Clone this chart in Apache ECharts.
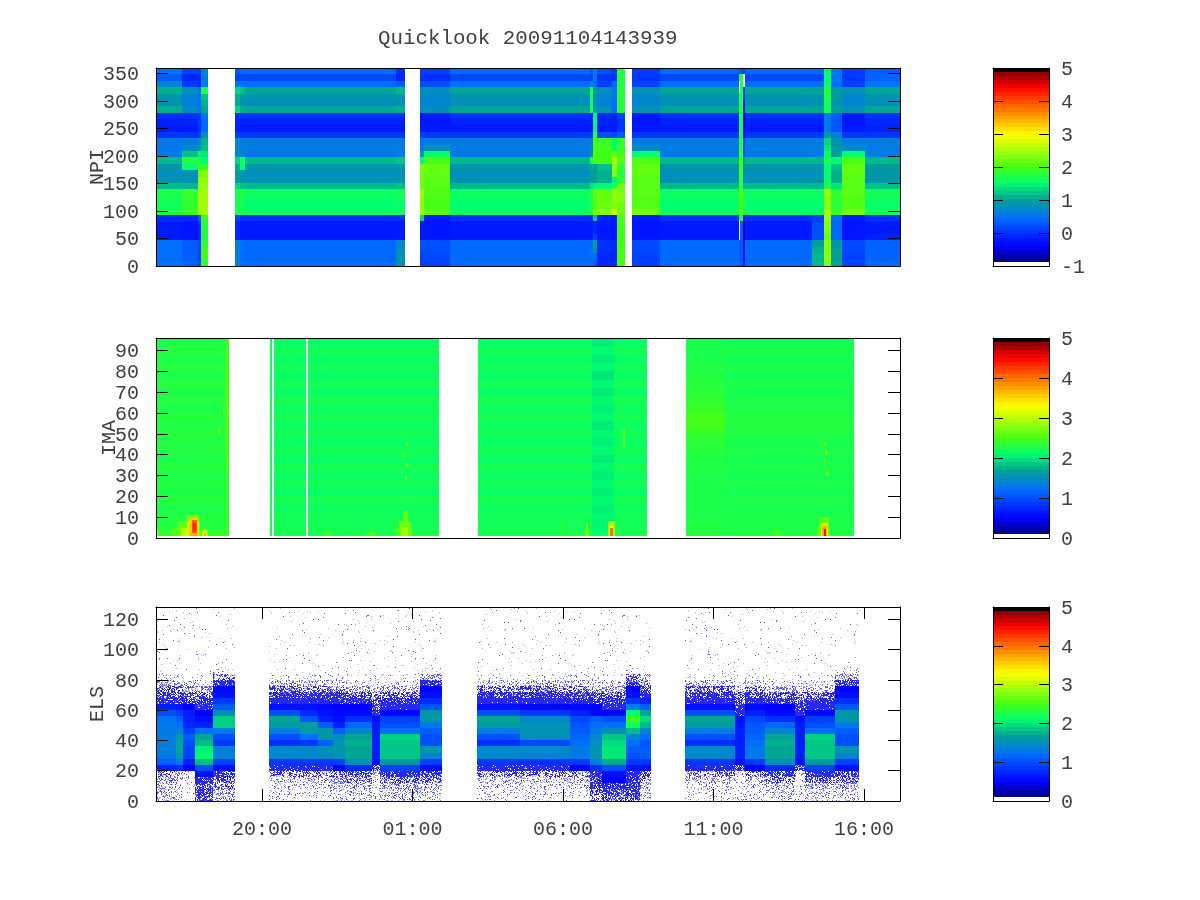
<!DOCTYPE html>
<html><head><meta charset="utf-8"><style>html,body{margin:0;padding:0;background:#fff}#c{width:1200px;height:900px}</style>
<script src="https://cdn.jsdelivr.net/npm/echarts@6/dist/echarts.min.js"></script></head>
<body><div id="c"></div><script>
const timeTicks=[20,25,30,35,40];
const timeLabels=['20:00','01:00','06:00','11:00','16:00'];
const npiTicks=[0,50,100,150,200,250,300,350];
const imaTicks=[0,10,20,30,40,50,60,70,80,90];
const elsTicks=[0,20,40,60,80,100,120];
const barTicks=[-1,0,1,2,3,4,5];
const barLevels=[0,.02,.04,.06,.08,.1,.12,.14,.16,.18,.2,.22,.24,.26,.28,.3,.32,.34,.36,.38,.4,.42,.44,.46,.48,.5,.52,.54,.56,.58,.6,.62,.64,.66,.68,.7,.72,.74,.76,.78,.8,.82,.84,.86,.88,.9,.92,.94,.96,.98];

// NPI: 31 rows, listed top to bottom
const npiQuiet=[0.4,0.15,0.45,1.05,0.85,0.8,1.05,-0.05,-0.15,-0.2,0,0.6,0.6,0.55,1.15,0.9,0.8,0.85,1.15,1.6,1.55,1.52,1.6,-0.05,-0.2,-0.2,-0.2,0.4,0.4,0.4,0.4];
const npiStart=[0.5,0.3,0.7,1.1,0.9,0.85,1.1,-0.05,-0.15,-0.2,0,0.55,0.55,0.6,1.15,0.9,0.8,0.9,1.15,1.7,1.65,1.62,1.72,-0.1,-0.2,-0.2,-0.2,0.45,0.45,0.45,0.45];
const npiActive=[0.1,-0.1,0.05,0.85,0.65,0.6,0.75,-0.05,-0.15,-0.2,0,0.6,0.75,1.2,1.75,1.55,0.85,0.85,1.15,1.9,1.85,1.85,1.9,-0.1,-0.25,-0.25,-0.25,0.3,0.3,0.3,0.35];
const npiHotDark=[-0.05,-0.1,-0.05,0.45,0.45,0.4,0.45,0,0,0,0.1,0.7,0.85,1.5,1.75,1.9,2.25,2.4,2.4,2.5,2.5,2.5,2.5,0.3,-0.1,-0.1,-0.1,0.1,0.1,0.1,0.1];
const npiEdgeA=[0.7,0.6,0.6,1.75,1.2,1.1,1.05,0.5,0.4,0.4,0.8,1.1,1.2,1.4,1.5,1.9,2.3,2.4,2.4,2.5,2.5,2.5,2.5,1.9,1.8,1.75,1.75,1.8,2.0,1.95,1.8];
const npiBlip=[0.4,0.15,0.45,1.2,0.9,0.85,1.1,-0.05,-0.15,-0.2,0,0.6,0.65,0.7,1.6,1.55,0.9,0.9,1.2,1.7,1.68,1.62,1.7,-0.05,-0.2,-0.2,-0.2,0.45,0.45,0.45,0.45];
const npiLeadIn=[0.3,0.1,0.5,1.3,1.1,1.05,1.3,-0.05,-0.1,-0.15,0.05,0.8,0.75,0.7,1.3,1.05,0.95,1,1.3,1.7,1.7,1.65,1.7,0.1,-0.1,-0.1,-0.1,0.6,0.65,0.65,0.7];
const npiTail=[-0.05,-0.1,0.3,1.15,0.9,0.85,1.1,-0.05,-0.15,-0.2,0,0.6,0.6,0.6,1.2,0.9,0.85,0.9,1.2,1.65,1.6,1.55,1.65,-0.05,-0.2,-0.2,-0.2,0.7,0.8,0.85,0.9];
const npiHotA=[0.1,0,0.2,0.8,0.75,0.7,0.8,-0.2,-0.25,-0.2,0.1,0.5,0.6,0.9,1.5,2.25,2.25,2.2,2.2,2.5,2.4,2.35,2.5,1.3,-0.2,-0.2,-0.2,0.25,0.2,0.1,0.1];
const npiSlope=[0.1,-0.05,0.2,0.8,0.7,0.7,0.8,-0.2,-0.25,-0.2,0,0.6,0.85,1.55,2,2.15,2.15,2.1,2.1,2.05,2,2,2.1,-0.2,-0.25,-0.25,-0.25,0.2,0.2,0.15,0.1];
const npiMidEdge=[0.2,0.1,0.6,1.7,1.7,1.65,1.7,-0.1,-0.15,-0.2,0.1,0.6,0.7,0.9,1.65,1.1,1,1,1.4,1.75,1.75,1.75,1.8,-0.1,-0.2,-0.2,-0.2,0.4,0.5,0.4,0.4];
const npiMidA=[0.6,0.55,0.5,1,0.8,0.8,0.9,1.5,1.5,1.5,1.8,2,2,2,2.05,1,1,1,1.45,2.15,2.1,2.05,2.35,1.2,-0.1,-0.1,0.1,1,0.9,0.4,0.3];
const npiMidB=[0.2,0,0.1,0.8,0.7,0.65,0.85,-0.1,-0.15,-0.2,0.2,1.9,1.95,1.95,2,1.2,1.1,1.1,1.5,2.15,2.15,2.2,2.3,-0.15,-0.2,-0.25,-0.2,-0.05,-0.05,-0.1,-0.1];
const npiMidC=[0,-0.05,0.4,0.5,0.5,0.4,0.4,-0.1,-0.15,-0.2,0.1,1.5,1.6,2.1,2.5,2.4,2.3,1.5,1.8,2.4,2.4,2.3,2.7,-0.2,-0.25,-0.25,-0.25,-0.1,-0.1,-0.1,-0.1];
const npiEdgeB=[1.75,1.75,1.75,1.8,1.8,1.75,1.75,0.1,0,0,0.3,1.9,1.9,2,2.05,1.85,1.75,1.85,2.2,2.3,2.3,2.2,2.2,2,2,1.95,1.95,1.95,2,2,2];
const npiHotB=[0.05,0,0.1,0.85,0.7,0.7,0.85,-0.2,-0.25,-0.2,0,0.6,0.75,1.55,2.05,2.15,2.15,2.1,2.1,2.1,2.05,2.05,2.25,-0.2,-0.25,-0.25,-0.25,0.15,0.15,0.1,0.1];
const npiStreak=[0.2,1.7,1.7,1.7,1.7,1.75,1.75,1.65,1.65,1.65,1.65,1.75,1.75,1.85,1.95,1.95,1.85,1.85,1.85,2.1,2,2,2.1,1.55,0.3,0.3,0.3,0.3,0.3,0.3,0.3];
const npiDarkLine=[0.05,-0.5,-0.5,0.1,0.1,-0.3,-0.3,-0.5,-0.5,-0.5,-0.5,0.1,0.1,0.1,1,0.9,0.8,0.7,1.1,1.7,1.7,1.7,1.7,-0.6,-0.7,-0.7,-0.7,-0.3,-0.3,-0.3,-0.3];
const npiSide=[0.4,0.15,0.45,1.05,0.9,0.85,1.05,-0.05,-0.15,-0.2,0,0.6,0.6,0.6,1.15,0.9,0.85,0.9,1.15,1.6,1.55,1.55,1.6,0.1,0.2,0.2,0.2,1,1.1,1.15,1.15];
const npiJet=[1.6,1.55,1.55,1.75,1.75,1.65,1.65,0.6,0.55,0.55,0.9,1.3,1.4,1.6,1.7,1.55,1.55,1.55,1.75,2.45,2.35,2.35,2.5,2.45,2.35,2.3,2.2,2.35,2.35,2.4,2.3];
const npiAfter=[0.5,0.5,0.45,0.95,0.95,0.85,0.95,0.3,0.25,0.25,0.6,0.85,0.9,1,1.5,1.2,1.1,1.1,1.4,1.85,1.8,1.8,1.9,0.45,0.4,0.4,0.4,0.9,1,1,1];
const npiEnd=[0.3,0.35,0.5,1.05,0.85,0.8,1.05,-0.05,-0.1,-0.15,0,0.6,0.6,0.6,1.15,0.95,0.9,0.9,1.2,1.65,1.6,1.55,1.65,-0.05,-0.2,-0.2,-0.15,0.35,0.35,0.35,0.4];
const npiSegments=[
 [16.48,17.34,npiStart],[17.34,17.88,npiActive],[17.88,17.97,npiHotDark],[17.97,18.21,npiEdgeA],
 [19.10,19.27,npiLeadIn],[19.27,19.44,npiBlip],[19.44,24.45,npiQuiet],[24.45,24.75,npiTail],
 [25.25,25.38,npiHotA],[25.38,26.25,npiSlope],[26.25,30.90,npiQuiet],[30.90,31.00,npiMidEdge],[31.00,31.13,npiMidA],[31.13,31.63,npiMidB],[31.63,31.79,npiMidC],[31.79,32.06,npiEdgeB],
 [32.29,33.12,npiHotB],[33.12,33.22,npiSlope],[33.22,35.86,npiQuiet],[35.86,35.91,npiStreak],[35.91,35.98,npiStreak],[35.98,36.05,npiDarkLine],[36.05,38.27,npiQuiet],[38.27,38.67,npiSide],[38.67,38.90,npiJet],[38.90,39.27,npiAfter],[39.27,40.03,npiHotB],[40.03,41.20,npiEnd]
];
// NPI dropouts: start hour, end hour, low channel, high channel, no-data value
const npiDropouts=[[35.84,35.90,315,337,-1],[35.84,35.90,47,82,-1],[35.98,36.05,325,349,-1]];

// IMA: 24 rows, listed top to bottom
const imaWarm=[2.26,2.3,2.26,2.3,2.26,2.32,2.26,2.3,2.26,2.32,2.28,2.32,2.28,2.3,2.26,2.32,2.26,2.3,2.26,2.32,2.26,2.3,2.3,2.4];
const imaEdge=[2.45,2.45,2.45,2.45,2.5,2.5,2.5,2.5,2.55,2.5,2.5,2.5,2.45,2.45,2.45,2.45,2.4,2.4,2.4,2.4,2.4,2.4,2.4,2.45];
const imaPlain=[2.14,2.2,2.14,2.2,2.14,2.2,2.14,2.22,2.16,2.22,2.16,2.2,2.14,2.2,2.14,2.22,2.16,2.2,2.14,2.22,2.16,2.2,2.2,2.25];
const imaCool=[2.02,2.08,2.02,2.08,2,2.08,2.02,2.08,2.04,2.08,2.02,2.08,2.04,2.08,2.02,2.08,2.04,2.08,2.04,2.08,2.04,2.08,2.06,2.12];
const imaRise=[2.24,2.24,2.26,2.28,2.3,2.32,2.34,2.38,2.42,2.5,2.48,2.4,2.34,2.32,2.28,2.28,2.26,2.26,2.26,2.26,2.26,2.26,2.28,2.32];
const imaCalm=[2.2,2.25,2.2,2.25,2.2,2.26,2.22,2.26,2.26,2.3,2.3,2.28,2.24,2.26,2.22,2.26,2.22,2.26,2.22,2.26,2.22,2.26,2.25,2.3];
const imaSegments=[
 [16.48,18.77,imaWarm],[18.77,18.90,imaEdge],[20.27,20.33,imaPlain],[20.40,21.46,imaPlain],[21.53,25.88,imaPlain],
 [27.18,30.96,imaPlain],[30.96,31.69,imaCool],[31.69,32.79,imaPlain],[34.09,35.40,imaRise],[35.40,39.67,imaCalm]
];
// IMA bursts: start hour, end hour, low channel, high channel, value
const imaBursts=[
 [16.48,16.55,1.2,4,3],[17.0,18.0,1.2,5,2.55],[17.2,17.95,1.2,8,2.6],[17.5,17.92,1.2,11,2.7],
 [17.3,17.9,1.2,5,3],[17.52,17.9,1.2,7.5,3.05],[17.58,17.88,1.2,9.5,3.55],[17.62,17.86,1.2,2.5,3.7],[17.66,17.84,2.4,8.6,4.1],[17.7,17.8,3.5,7,4.35],
 [18.0,18.21,1.2,4.5,2.75],[18.04,18.17,1.2,3.2,3.2],[18.08,18.14,1.2,2.6,3.7],
 [18.7,18.74,60,63,2.7],[18.55,18.59,50,53,2.7],
 [22.05,22.3,1.2,3,2.45],[23.45,23.75,1.2,3,2.5],[24.45,25,1.2,5,2.5],[24.55,24.95,1.2,8,2.65],[24.62,24.85,1.2,5.5,2.9],[24.68,24.85,7,13,2.6],
 [24.75,24.82,28,30,2.65],[24.79,24.85,34,36,2.65],[24.7,24.76,39,41,2.65],[24.78,24.86,44,46,2.65],[24.74,24.8,47,49,2.65],
 [29.93,29.98,1.2,8,2.5],[30.72,30.88,1.2,4,2.6],[30.76,30.84,1.2,7,2.8],[31.5,31.72,1.2,8,2.9],[31.55,31.68,1.2,6,3.3],[31.58,31.66,1.2,4.6,4],[32.0,32.05,43,53,2.6],
 [37,37.2,1.2,4,2.5],[38.45,38.88,1.2,5,2.6],[38.5,38.85,1.2,10,2.6],[38.58,38.82,1.2,7,3.1],[38.62,38.78,1.2,5.6,3.7],[38.66,38.74,1.2,4.4,4.5],
 [38.74,38.8,30,32,2.75],[38.66,38.72,36,38,2.75],[38.72,38.8,40,42,2.75],[38.68,38.74,44,46,2.75]
];

// ELS: 32 rows, listed top to bottom; values below 0.5 are read speck densities
const elsA=[.025,.025,.025,.025,.025,.025,.025,.025,.025,.025,.035,.08,.2,.34,.44,.49,.6,1,1.7,1.65,1.35,1,.8,1.45,1.45,.85,.48,.3,.2,.15,.12,.1];
const elsA2=[.025,.025,.025,.025,.025,.025,.025,.025,.025,.025,.035,.08,.2,.34,.44,.49,.6,.75,1.05,1.65,1.65,1.2,.85,1.45,1.45,.85,.48,.3,.2,.15,.12,.1];
const elsA3=[.025,.025,.025,.025,.025,.025,.025,.025,.025,.025,.035,.08,.2,.34,.44,.49,.55,.6,.7,1.1,1.6,1.6,1.1,1.5,1.45,.85,.48,.3,.22,.18,.14,.12];
const elsA4=[.025,.025,.025,.025,.025,.025,.025,.025,.025,.025,.035,.08,.18,.32,.42,.48,.52,.55,.6,.7,1.1,1.5,1.55,1.6,1.55,.9,.52,.35,.28,.22,.16,.14];
const elsB1=[.025,.025,.025,.025,.025,.025,.025,.025,.025,.025,.03,.05,.12,.24,.37,.45,.5,.55,.8,1.15,1.4,1.7,1.75,1.7,1.7,1.5,.75,.4,.3,.22,.18,.15];
const elsB2=[.025,.025,.025,.025,.025,.025,.025,.025,.025,.025,.03,.05,.12,.24,.37,.46,.49,.55,.9,1,1.2,1.9,1.85,1.85,1.85,1.6,.9,.46,.35,.25,.2,.2];
const elsC=[.025,.025,.025,.025,.025,.025,.025,.025,.025,.025,.04,.12,.25,.34,.42,.47,.7,1,1.25,1.3,1.3,1.35,1.35,1.35,1.3,1.1,.7,.3,.25,.22,.2,.22];
const elsC2=[.025,.025,.025,.025,.025,.025,.025,.025,.025,.025,.04,.1,.22,.32,.4,.47,.65,.9,1.1,1.2,1.4,1.6,1.7,1.7,1.6,1.3,.75,.25,.2,.16,.14,.16];
const elsD=[.02,.02,.02,.02,.02,.02,.02,.02,.02,.02,.03,.07,.16,.28,.37,.45,.5,.7,.7,.75,.9,1.1,1,.95,.9,.7,.5,.12,.1,.08,.08,.1];
const elsE=[.02,.02,.02,.02,.02,.02,.02,.02,.02,.02,.03,.07,.15,.27,.36,.44,.48,.5,.6,.7,1.2,1.7,1.8,2.05,2.1,1.8,1,.6,.46,.42,.4,.4];
const elsF=[.025,.025,.025,.025,.025,.025,.025,.025,.025,.025,.08,.3,.46,.55,.6,.85,1.1,1.5,1.9,1.9,1.3,1,.85,1.35,1.4,.9,.58,.42,.36,.3,.26,.22];
const elsG=[.025,.025,.025,.025,.025,.025,.025,.025,.025,.025,.03,.06,.1,.18,.3,.38,.44,.48,.6,.65,.7,.7,.7,.7,.7,.6,.38,.18,.12,.1,.1,.12];
const elsH=[.025,.025,.025,.025,.025,.025,.025,.025,.025,.025,.08,.28,.44,.52,.58,.8,1.05,1.6,1.6,1.3,1.1,1,1,1.55,1.4,.9,.58,.42,.32,.25,.2,.16];
const elsR2=[.025,.025,.025,.025,.025,.025,.025,.025,.025,.025,.035,.08,.2,.34,.44,.49,.55,.85,1.45,1.55,1.55,1.5,.95,1.45,1.4,.8,.48,.3,.2,.15,.12,.1];
const elsR3=[.025,.025,.025,.025,.025,.025,.025,.025,.025,.025,.04,.09,.2,.32,.42,.48,.55,.7,.95,1.05,1.1,1.15,1.2,1.3,1.3,.85,.5,.3,.22,.16,.13,.11];
const elsR4=[.025,.025,.025,.025,.025,.025,.025,.025,.025,.025,.03,.07,.16,.28,.38,.46,.5,.55,1.1,1.2,1.3,1.45,1.5,1.55,1.55,1.3,.8,.47,.42,.42,.38,.3];
const elsR5=[.025,.025,.025,.025,.025,.025,.025,.025,.025,.025,.03,.06,.14,.26,.36,.44,.48,.52,1,1.2,1.5,1.85,1.95,2,2,1.7,1,.6,.5,.46,.42,.38];
const elsR6=[.025,.025,.025,.025,.025,.025,.025,.025,.025,.025,.08,.3,.42,.5,.6,.85,1.3,2.1,2.45,2.2,1.8,1.4,1.2,1.1,1,.85,.62,.48,.46,.44,.42,.38];
const elsR7=[.025,.025,.025,.025,.025,.025,.025,.025,.025,.025,.06,.2,.3,.4,.48,.7,1.1,1.7,1.95,1.8,1.4,1.2,1.05,1.1,1.1,.85,.6,.4,.3,.25,.2,.15];
const elsSegments=[
 [16.48,17.14,elsC],[17.14,17.38,elsC2],[17.38,17.78,elsD],[17.78,18.37,elsE],[18.37,19.09,elsF],
 [20.23,21.26,elsA],[21.26,21.86,elsA2],[21.86,22.36,elsA3],[22.36,22.76,elsA4],[22.76,23.66,elsB1],[23.66,23.92,elsG],[23.92,25.25,elsB2],[25.25,25.98,elsH],
 [27.16,28.57,elsA],[28.57,30.23,elsR2],[30.23,30.90,elsR3],[30.90,31.30,elsR4],[31.30,32.09,elsR5],[32.09,32.55,elsR6],[32.55,32.92,elsR7],
 [34.07,35.71,elsA],[35.71,36.05,elsG],[36.05,36.71,elsR3],[36.71,37.71,elsB1],[37.71,38.04,elsG],[38.04,39.04,elsB2],[39.04,39.83,elsH]
];

const colorStops=[[0,255,255,255],[.012,255,255,255],[.0121,0,0,120],[.1,0,0,255],[.24,0,110,255],[.335,0,160,150],[.42,0,255,110],[.5,70,255,20],[.66,255,255,0],[.84,255,70,0],[.9,255,0,0],[.975,140,0,0],[.976,0,0,0],[1,0,0,0]];
function paletteColor(f){
  f=Math.max(0,Math.min(1,f));
  for(let i=1;i<colorStops.length;i++){const a=colorStops[i-1],b=colorStops[i];
    if(f<=b[0]){const t=(f-a[0])/(b[0]-a[0]);return 'rgb('+[1,2,3].map(k=>Math.round(a[k]+(b[k]-a[k])*t)).join(',')+')';}}
  return '#000';
}
// Stipple fill that renders a read speck density as texture (style only, holds no data).
const stippleCache={};
function stippleGrain(x,y){
  let h=Math.imul(x,374761393)+Math.imul(y,668265263)|0;
  h=Math.imul(h^(h>>>13),1274126177);
  return ((h^(h>>>16))>>>0)/4294967296;
}
function speckFill(s){
  const key=s.toFixed(3);
  if(stippleCache[key])return stippleCache[key];
  const size=256,c=document.createElement('canvas');c.width=c.height=size;
  const ctx=c.getContext('2d'),img=ctx.createImageData(size,size),cover=Math.pow(Math.min(1,s/0.5),1.3);
  for(let y=0;y<size;y++)for(let x=0;x<size;x++){
    const g=stippleGrain(x,y),i=(y*size+x)*4;let r=255,gg=255,b=255;
    if(g<cover){const strong=g<cover*(0.35+0.65*cover);r=gg=strong?(cover>.5?40:80):170;b=strong?240:252;}
    img.data[i]=r;img.data[i+1]=gg;img.data[i+2]=b;img.data[i+3]=255;
  }
  ctx.putImageData(img,0,0);
  return stippleCache[key]={image:c,repeat:'repeat'};
}

const X0=16.48,X1=41.20;
function rectSeries(data,xi,yi,colorOf){
  return {type:'custom',xAxisIndex:xi,yAxisIndex:yi,z:2,silent:true,animation:false,clip:true,
    encode:{x:[0,1],y:[2,3]},data:data,
    renderItem:function(p,api){
      const a=api.coord([api.value(0),api.value(3)]),b=api.coord([api.value(1),api.value(2)]);
      const x=Math.round(a[0]),y=Math.round(a[1]),w=Math.round(b[0])-x,h=Math.round(b[1])-y;
      return {type:'rect',shape:{x:x,y:y,width:w,height:h},style:{fill:colorOf(api.value(4)),stroke:null}};
    }};
}
function segRects(segs,rowH,top,floor){
  const out=[];
  segs.forEach(s=>s[2].forEach((v,i)=>{const hi=top-i*rowH;out.push([s[0],s[1],Math.max(floor,hi-rowH),hi,v]);}));
  return out;
}
const npiData=segRects(npiSegments,360/31,360,0).concat(npiDropouts);
const imaData=segRects(imaSegments,4,96,1.2).concat(imaBursts);
const elsData=segRects(elsSegments,4,128,0);

const FONT='Liberation Mono',FS=20,TXT='#404040';
const grids=[],xAxes=[],yAxes=[],series=[];
const line={show:true,onZero:false,lineStyle:{color:'#000',width:1}};
function panel(top,bottom,left,width,opt){
  const g=grids.length;
  grids.push({left:left,top:top,width:width,height:bottom-top,containLabel:false});
  const xi=xAxes.length,yi=yAxes.length;
  const tickX=opt.xTicks?{show:true,inside:true,length:12,lineStyle:{color:'#000'},customValues:opt.xTicks}:{show:false};
  const lblX=opt.xTicks?{show:true,color:TXT,fontFamily:FONT,fontSize:FS,margin:19,customValues:opt.xTicks,formatter:v=>timeLabels[timeTicks.indexOf(v)]}:{show:false};
  xAxes.push({gridIndex:g,type:'value',position:'bottom',min:opt.xMin,max:opt.xMax,z:5,splitLine:{show:false},axisLine:line,axisTick:tickX,axisLabel:lblX});
  xAxes.push({gridIndex:g,type:'value',position:'top',min:opt.xMin,max:opt.xMax,z:5,splitLine:{show:false},axisLine:line,axisTick:tickX,axisLabel:{show:false}});
  const tickY={show:true,inside:true,length:opt.tickLen,lineStyle:{color:'#000'},customValues:opt.yTickVals};
  const lblY={show:true,color:TXT,fontFamily:FONT,fontSize:FS,margin:opt.margin,verticalAlign:'top',lineHeight:3,customValues:opt.yLabelVals,formatter:v=>String(v)};
  const common={gridIndex:g,type:'value',min:opt.yMin,max:opt.yMax,z:5,splitLine:{show:false},axisLine:line};
  yAxes.push(Object.assign({},common,{position:opt.labelSide,axisTick:tickY,axisLabel:lblY,
    name:opt.name,nameLocation:'middle',nameGap:opt.nameGap,nameMoveOverlap:false,nameTextStyle:{color:TXT,fontFamily:FONT,fontSize:FS}}));
  yAxes.push(Object.assign({},common,{position:opt.labelSide==='left'?'right':'left',axisTick:tickY,axisLabel:{show:false}}));
  return {xi:xi,yi:yi};
}
function mainPanel(top,bottom,yMax,ticks,name,nameGap,xTicks,data,colorOf){
  const p=panel(top,bottom,156,744,{xMin:X0,xMax:X1,yMin:0,yMax:yMax,yTickVals:ticks,yLabelVals:ticks,tickLen:12,margin:17,labelSide:'left',name:name,nameGap:nameGap,xTicks:xTicks});
  series.push(rectSeries(data,p.xi,p.yi,colorOf));
}
function barPanel(top,bottom,lo){
  const labels=barTicks.filter(v=>v>=lo);
  const p=panel(top,bottom,993,56,{xMin:0,xMax:1,yMin:lo,yMax:5,yTickVals:labels.slice(1,-1),yLabelVals:labels,tickLen:10,margin:12,labelSide:'right'});
  const span=5-lo;
  series.push(rectSeries(barLevels.map(f=>[0,1,lo+f*span,lo+(f+.02)*span,f+.01]),p.xi,p.yi,paletteColor));
}
mainPanel(68,266,360,npiTicks,'NPI',48,null,npiData,v=>paletteColor((v+1)/6));
mainPanel(338,538,96,imaTicks,'IMA',36,null,imaData,v=>paletteColor(v/5));
mainPanel(607,801,128,elsTicks,'ELS',48,timeTicks,elsData,v=>v<.5?speckFill(v):paletteColor(v/5));
barPanel(68,266,-1);barPanel(338,538,0);barPanel(607,801,0);

echarts.init(document.getElementById('c'),null,{renderer:'canvas'}).setOption({
  animation:false,backgroundColor:'#fff',
  title:{text:'Quicklook 20091104143939',left:373,top:23,textStyle:{color:TXT,fontFamily:FONT,fontSize:20.8,fontWeight:'normal'}},
  grid:grids,xAxis:xAxes,yAxis:yAxes,series:series
});
</script></body></html>
